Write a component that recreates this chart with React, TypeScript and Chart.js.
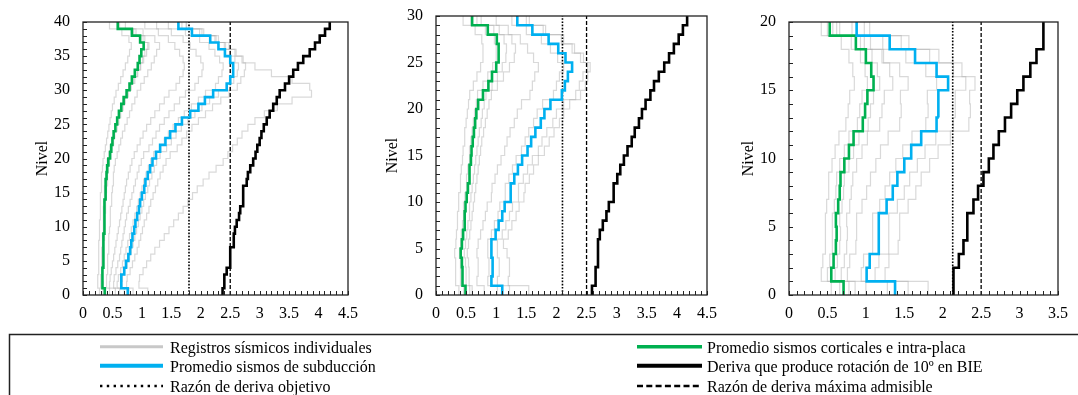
import React, { useEffect, useRef } from "react";
import { Chart, registerables } from "chart.js";

Chart.register(...registerables);

const FONT = "'Liberation Serif', 'Times New Roman', serif";
const GREEN = "#00b050";
const BLUE = "#00b0f0";
const BLACK = "#000000";
const GRAY = "rgba(170,170,170,0.45)";

// ---------- Panel 1 (40 niveles) ----------
const p1Cortical = [0.37, 0.33, 0.33, 0.33, 0.34, 0.34, 0.35, 0.35, 0.35, 0.36, 0.36, 0.36, 0.37, 0.37, 0.38, 0.38, 0.39, 0.40, 0.41, 0.43, 0.46, 0.48, 0.50, 0.52, 0.55, 0.58, 0.61, 0.65, 0.69, 0.74, 0.79, 0.83, 0.88, 0.93, 0.96, 0.99, 1.03, 0.97, 0.83, 0.59];
const p1Subduction = [0.76, 0.65, 0.65, 0.70, 0.73, 0.77, 0.80, 0.82, 0.84, 0.87, 0.89, 0.92, 0.95, 0.97, 1.00, 1.04, 1.06, 1.10, 1.14, 1.18, 1.24, 1.31, 1.40, 1.48, 1.57, 1.68, 1.82, 1.96, 2.07, 2.21, 2.44, 2.50, 2.55, 2.55, 2.50, 2.41, 2.30, 2.16, 1.85, 1.62];
const p1Rotation = [2.37, 2.40, 2.40, 2.44, 2.50, 2.50, 2.50, 2.56, 2.56, 2.58, 2.61, 2.65, 2.67, 2.72, 2.72, 2.72, 2.78, 2.80, 2.84, 2.89, 2.93, 2.96, 3.00, 3.03, 3.07, 3.12, 3.17, 3.23, 3.29, 3.34, 3.43, 3.50, 3.57, 3.65, 3.74, 3.85, 3.94, 4.02, 4.11, 4.19];
const p1Rec1 = [0.28, 0.25, 0.25, 0.26, 0.26, 0.27, 0.27, 0.27, 0.28, 0.28, 0.28, 0.29, 0.29, 0.30, 0.30, 0.31, 0.31, 0.32, 0.33, 0.34, 0.36, 0.38, 0.40, 0.42, 0.44, 0.46, 0.48, 0.50, 0.53, 0.56, 0.60, 0.64, 0.68, 0.72, 0.76, 0.79, 0.82, 0.78, 0.66, 0.45];
const p1Rec2 = [0.34, 0.30, 0.30, 0.31, 0.31, 0.32, 0.32, 0.33, 0.33, 0.34, 0.34, 0.35, 0.35, 0.36, 0.36, 0.37, 0.38, 0.39, 0.40, 0.41, 0.44, 0.46, 0.49, 0.52, 0.55, 0.58, 0.62, 0.66, 0.70, 0.74, 0.80, 0.86, 0.92, 0.97, 1.01, 1.05, 1.10, 1.02, 0.86, 0.60];
const p1Rec3 = [0.45, 0.40, 0.40, 0.41, 0.42, 0.42, 0.43, 0.44, 0.44, 0.45, 0.46, 0.46, 0.47, 0.48, 0.49, 0.50, 0.51, 0.52, 0.53, 0.55, 0.58, 0.61, 0.64, 0.67, 0.71, 0.75, 0.79, 0.83, 0.88, 0.92, 0.98, 1.04, 1.10, 1.16, 1.21, 1.25, 1.30, 1.22, 1.02, 0.72];
const p1Rec4 = [0.38, 0.34, 0.33, 0.33, 0.34, 0.34, 0.35, 0.35, 0.36, 0.36, 0.37, 0.37, 0.38, 0.38, 0.39, 0.40, 0.41, 0.42, 0.43, 0.45, 0.47, 0.49, 0.52, 0.54, 0.58, 0.61, 0.64, 0.68, 0.72, 0.77, 0.82, 0.88, 0.93, 0.98, 1.03, 1.08, 1.12, 1.05, 0.90, 0.62];
const p1Rec5 = [0.55, 0.45, 0.46, 0.48, 0.50, 0.52, 0.54, 0.56, 0.58, 0.60, 0.62, 0.64, 0.66, 0.68, 0.70, 0.72, 0.74, 0.77, 0.80, 0.83, 0.87, 0.92, 0.97, 1.02, 1.08, 1.15, 1.22, 1.30, 1.38, 1.46, 1.58, 1.64, 1.70, 1.72, 1.70, 1.64, 1.56, 1.45, 1.28, 1.05];
const p1Rec6 = [0.62, 0.52, 0.53, 0.56, 0.59, 0.62, 0.64, 0.66, 0.68, 0.70, 0.72, 0.74, 0.77, 0.80, 0.83, 0.86, 0.89, 0.92, 0.95, 0.99, 1.03, 1.12, 1.18, 1.24, 1.30, 1.38, 1.46, 1.55, 1.64, 1.74, 1.90, 1.96, 2.02, 2.04, 2.00, 1.92, 1.82, 1.70, 1.50, 1.25];
const p1Rec7 = [0.70, 0.58, 0.60, 0.64, 0.67, 0.70, 0.73, 0.76, 0.79, 0.82, 0.85, 0.88, 0.91, 0.94, 0.97, 1.00, 1.03, 1.07, 1.11, 1.15, 1.20, 1.30, 1.38, 1.45, 1.53, 1.62, 1.72, 1.84, 1.96, 2.08, 2.25, 2.30, 2.36, 2.38, 2.32, 2.24, 2.14, 1.98, 1.74, 1.45];
const p1Rec8 = [0.78, 0.66, 0.67, 0.71, 0.75, 0.79, 0.82, 0.85, 0.88, 0.91, 0.94, 0.97, 1.00, 1.03, 1.06, 1.10, 1.13, 1.17, 1.21, 1.25, 1.31, 1.42, 1.50, 1.58, 1.67, 1.78, 1.90, 2.02, 2.15, 2.30, 2.50, 2.56, 2.62, 2.64, 2.58, 2.50, 2.40, 2.24, 1.98, 1.68];
const p1Rec9 = [0.85, 0.74, 0.75, 0.80, 0.84, 0.88, 0.92, 0.95, 0.98, 1.01, 1.04, 1.08, 1.12, 1.15, 1.19, 1.23, 1.27, 1.31, 1.36, 1.41, 1.48, 1.60, 1.68, 1.76, 1.85, 1.96, 2.08, 2.20, 2.34, 2.48, 2.62, 2.68, 2.74, 2.76, 2.70, 2.60, 2.48, 2.30, 2.05, 1.75];
const p1Rec10 = [1.10, 0.95, 0.96, 1.02, 1.08, 1.15, 1.22, 1.30, 1.38, 1.46, 1.54, 1.62, 1.70, 1.78, 1.86, 1.94, 2.04, 2.14, 2.26, 2.38, 2.46, 2.54, 2.62, 2.70, 2.80, 2.92, 3.08, 3.30, 3.55, 3.88, 3.85, 3.55, 3.20, 2.92, 2.72, 2.58, 2.42, 2.26, 2.02, 1.76];
const p1Records = [p1Rec1, p1Rec2, p1Rec3, p1Rec4, p1Rec5, p1Rec6, p1Rec7, p1Rec8, p1Rec9, p1Rec10];

// ---------- Panel 2 (30 niveles) ----------
const p2Cortical = [0.49, 0.44, 0.44, 0.43, 0.41, 0.43, 0.45, 0.47, 0.48, 0.49, 0.51, 0.53, 0.55, 0.56, 0.58, 0.59, 0.61, 0.63, 0.65, 0.67, 0.70, 0.78, 0.87, 0.93, 1.00, 1.04, 1.04, 1.01, 0.86, 0.60];
const p2Subduction = [1.10, 0.92, 0.94, 0.94, 0.92, 0.92, 0.99, 1.04, 1.10, 1.14, 1.24, 1.24, 1.30, 1.36, 1.43, 1.52, 1.58, 1.65, 1.74, 1.80, 1.90, 2.09, 2.14, 2.19, 2.26, 2.15, 2.03, 1.87, 1.60, 1.35];
const p2Rotation = [2.59, 2.65, 2.65, 2.69, 2.69, 2.69, 2.72, 2.77, 2.83, 2.87, 2.95, 2.95, 3.01, 3.06, 3.12, 3.18, 3.25, 3.30, 3.37, 3.42, 3.48, 3.56, 3.62, 3.70, 3.79, 3.87, 3.95, 4.03, 4.10, 4.17];
const p2Rec1 = [0.38, 0.33, 0.33, 0.32, 0.31, 0.33, 0.34, 0.35, 0.36, 0.37, 0.38, 0.40, 0.41, 0.42, 0.44, 0.45, 0.47, 0.48, 0.50, 0.52, 0.54, 0.56, 0.62, 0.68, 0.74, 0.78, 0.78, 0.76, 0.65, 0.45];
const p2Rec2 = [0.46, 0.41, 0.41, 0.40, 0.39, 0.41, 0.42, 0.44, 0.45, 0.46, 0.48, 0.50, 0.51, 0.53, 0.55, 0.56, 0.58, 0.60, 0.62, 0.64, 0.67, 0.69, 0.78, 0.86, 0.94, 1.00, 1.00, 0.97, 0.82, 0.58];
const p2Rec3 = [0.56, 0.50, 0.50, 0.49, 0.47, 0.49, 0.51, 0.53, 0.55, 0.56, 0.58, 0.60, 0.62, 0.64, 0.66, 0.68, 0.70, 0.72, 0.75, 0.77, 0.80, 0.83, 0.93, 1.02, 1.10, 1.16, 1.17, 1.13, 0.96, 0.68];
const p2Rec4 = [0.60, 0.55, 0.55, 0.54, 0.52, 0.54, 0.56, 0.58, 0.60, 0.62, 0.64, 0.66, 0.68, 0.70, 0.72, 0.74, 0.76, 0.79, 0.82, 0.85, 0.88, 0.92, 1.02, 1.12, 1.22, 1.30, 1.32, 1.26, 1.05, 0.75];
const p2Rec5 = [0.80, 0.68, 0.70, 0.70, 0.68, 0.70, 0.74, 0.78, 0.82, 0.85, 0.92, 0.93, 0.98, 1.02, 1.08, 1.14, 1.18, 1.23, 1.30, 1.35, 1.42, 1.56, 1.60, 1.64, 1.70, 1.62, 1.52, 1.40, 1.20, 1.00];
const p2Rec6 = [1.02, 0.86, 0.88, 0.88, 0.86, 0.86, 0.92, 0.97, 1.03, 1.06, 1.15, 1.15, 1.21, 1.27, 1.33, 1.42, 1.48, 1.54, 1.62, 1.68, 1.77, 1.95, 2.00, 2.05, 2.12, 2.02, 1.90, 1.75, 1.50, 1.26];
const p2Rec7 = [1.22, 1.02, 1.05, 1.05, 1.02, 1.02, 1.10, 1.16, 1.22, 1.27, 1.37, 1.37, 1.45, 1.52, 1.60, 1.70, 1.76, 1.84, 1.94, 2.00, 2.12, 2.32, 2.38, 2.44, 2.52, 2.40, 2.26, 2.08, 1.78, 1.50];
const p2Rec8 = [1.54, 1.20, 1.22, 1.22, 1.18, 1.12, 1.20, 1.26, 1.33, 1.38, 1.46, 1.48, 1.55, 1.62, 1.70, 1.80, 1.88, 1.96, 2.05, 2.12, 2.22, 2.40, 2.48, 2.52, 2.56, 2.45, 2.30, 2.12, 1.82, 1.55];
const p2Records = [p2Rec1, p2Rec2, p2Rec3, p2Rec4, p2Rec5, p2Rec6, p2Rec7, p2Rec8];

// ---------- Panel 3 (20 niveles) ----------
const p3Cortical = [0.71, 0.55, 0.58, 0.61, 0.62, 0.61, 0.64, 0.66, 0.67, 0.72, 0.78, 0.84, 0.96, 0.99, 1.02, 1.10, 1.07, 1.00, 0.87, 0.53];
const p3Subduction = [1.38, 1.01, 1.05, 1.16, 1.17, 1.17, 1.27, 1.35, 1.41, 1.50, 1.59, 1.72, 1.92, 1.95, 1.94, 2.07, 1.92, 1.64, 1.31, 0.88];
const p3Rotation = [2.14, 2.14, 2.21, 2.27, 2.32, 2.32, 2.40, 2.46, 2.53, 2.60, 2.66, 2.73, 2.81, 2.89, 2.97, 3.05, 3.14, 3.22, 3.31, 3.31];
const p3Rec1 = [0.55, 0.42, 0.44, 0.47, 0.48, 0.47, 0.49, 0.51, 0.52, 0.56, 0.60, 0.65, 0.74, 0.77, 0.79, 0.85, 0.83, 0.78, 0.68, 0.42];
const p3Rec2 = [0.66, 0.50, 0.53, 0.56, 0.57, 0.56, 0.59, 0.61, 0.62, 0.66, 0.72, 0.78, 0.89, 0.92, 0.95, 1.02, 0.99, 0.93, 0.81, 0.50];
const p3Rec3 = [0.78, 0.60, 0.63, 0.66, 0.67, 0.66, 0.69, 0.71, 0.72, 0.78, 0.84, 0.91, 1.03, 1.06, 1.10, 1.18, 1.15, 1.08, 0.93, 0.57];
const p3Rec4 = [0.86, 0.68, 0.72, 0.75, 0.76, 0.75, 0.79, 0.81, 0.83, 0.88, 0.95, 1.02, 1.18, 1.21, 1.24, 1.35, 1.31, 1.21, 1.06, 0.62];
const p3Rec5 = [1.00, 0.76, 0.79, 0.87, 0.88, 0.88, 0.95, 1.01, 1.06, 1.13, 1.19, 1.29, 1.44, 1.46, 1.45, 1.55, 1.44, 1.23, 0.98, 0.66];
const p3Rec6 = [1.28, 0.94, 0.97, 1.08, 1.09, 1.09, 1.18, 1.25, 1.31, 1.39, 1.48, 1.60, 1.78, 1.81, 1.80, 1.92, 1.78, 1.52, 1.22, 0.82];
const p3Rec7 = [1.55, 1.12, 1.17, 1.29, 1.30, 1.30, 1.41, 1.50, 1.57, 1.67, 1.77, 1.91, 2.14, 2.17, 2.16, 2.30, 2.14, 1.83, 1.46, 0.98];
const p3Rec8 = [1.81, 1.25, 1.30, 1.42, 1.44, 1.44, 1.55, 1.65, 1.72, 1.83, 1.94, 2.10, 2.34, 2.36, 2.35, 2.42, 2.25, 1.95, 1.56, 1.05];
const p3Records = [p3Rec1, p3Rec2, p3Rec3, p3Rec4, p3Rec5, p3Rec6, p3Rec7, p3Rec8];

// Reference lines (drift ratio) and axis maxima
const targetDrift = [1.8, 2.1, 2.13];
const maxDrift = [2.5, 2.5, 2.5];
const xAxisMax = [4.5, 4.5, 3.5];
const yTickStep = 5;
const xTickStep = 0.5;

const legendLabels = [
  "Registros sísmicos individuales",
  "Promedio sismos de subducción",
  "Razón de deriva objetivo",
  "Promedio sismos corticales e intra-placa",
  "Deriva que produce rotación de 10º en BIE",
  "Razón de deriva máxima admisible",
];

type Spec = {
  left: number;
  width: number;
  height: number;
  areaLeft: number;
  areaRight: number;
  areaTop: number;
  areaBottom: number;
  titleX: number;
  idx: number;
  records: number[][];
  cortical: number[];
  subduction: number[];
  rotation: number[];
};

const specs: Spec[] = [
  { left: 0, width: 360, height: 330, areaLeft: 83, areaRight: 348, areaTop: 22, areaBottom: 295, titleX: 43, idx: 0, records: p1Records, cortical: p1Cortical, subduction: p1Subduction, rotation: p1Rotation },
  { left: 360, width: 360, height: 330, areaLeft: 76, areaRight: 347, areaTop: 16, areaBottom: 295, titleX: 33, idx: 1, records: p2Records, cortical: p2Cortical, subduction: p2Subduction, rotation: p2Rotation },
  { left: 720, width: 358, height: 330, areaLeft: 69, areaRight: 338, areaTop: 22, areaBottom: 295, titleX: 29, idx: 2, records: p3Records, cortical: p3Cortical, subduction: p3Subduction, rotation: p3Rotation },
];

function steps(vals: number[]) {
  const pts: { x: number; y: number }[] = [];
  vals.forEach((v, i) => {
    pts.push({ x: v, y: i });
    pts.push({ x: v, y: i + 1 });
  });
  return pts;
}

const framePlugin = {
  id: "frameTicks",
  afterDatasetsDraw(chart: any) {
    const { ctx, chartArea: a, scales } = chart;
    const xs = scales.x;
    const ys = scales.y;
    ctx.save();
    ctx.strokeStyle = "#222";
    ctx.lineWidth = 1;
    ctx.beginPath();
    const nx = Math.round(xs.max * 10);
    for (let i = 0; i <= nx; i++) {
      const px = Math.round(xs.getPixelForValue(i / 10)) + 0.5;
      ctx.moveTo(px, a.bottom);
      ctx.lineTo(px, a.bottom - 4);
    }
    for (let j = 0; j <= ys.max; j++) {
      const py = Math.round(ys.getPixelForValue(j)) + 0.5;
      ctx.moveTo(a.left, py);
      ctx.lineTo(a.left + 4, py);
    }
    ctx.stroke();
    ctx.lineWidth = 1.3;
    ctx.strokeRect(a.left, a.top, a.right - a.left, a.bottom - a.top);
    ctx.restore();
  },
};

function Panel({ spec }: { spec: Spec }) {
  const ref = useRef<HTMLCanvasElement>(null);
  useEffect(() => {
    if (!ref.current) return;
    const levels = spec.cortical.length;
    const t = targetDrift[spec.idx];
    const m = maxDrift[spec.idx];
    const datasets: any[] = [
      { data: steps(spec.rotation), borderColor: BLACK, borderWidth: 2.6 },
      { data: steps(spec.subduction), borderColor: BLUE, borderWidth: 2.6 },
      { data: steps(spec.cortical), borderColor: GREEN, borderWidth: 2.6 },
      { data: [{ x: t, y: 0 }, { x: t, y: levels }], borderColor: BLACK, borderWidth: 1.6, borderDash: [1.6, 1.6] },
      { data: [{ x: m, y: 0 }, { x: m, y: levels }], borderColor: BLACK, borderWidth: 1.3, borderDash: [4, 2] },
      ...spec.records.map((r) => ({ data: steps(r), borderColor: GRAY, borderWidth: 1.2 })),
    ];
    const chart = new Chart(ref.current, {
      type: "line",
      data: { datasets },
      options: {
        animation: false,
        responsive: false,
        events: [],
        layout: { padding: { top: spec.areaTop, right: spec.width - spec.areaRight, bottom: 0, left: 0 } },
        plugins: { legend: { display: false }, tooltip: { enabled: false } },
        elements: { point: { radius: 0 }, line: { tension: 0, fill: false } },
        scales: {
          x: {
            type: "linear",
            position: "bottom",
            min: 0,
            max: xAxisMax[spec.idx],
            grid: { display: false },
            border: { display: false },
            ticks: {
              stepSize: xTickStep,
              color: "#000",
              font: { family: FONT, size: 16 },
              padding: 1,
              maxRotation: 0,
              autoSkip: false,
              callback: (v: any) => String(Number(v)),
            },
            afterFit: (s: any) => {
              s.height = spec.height - spec.areaBottom;
            },
          },
          y: {
            type: "linear",
            min: 0,
            max: levels,
            grid: { display: false },
            border: { display: false },
            ticks: {
              stepSize: yTickStep,
              color: "#000",
              font: { family: FONT, size: 16 },
              padding: 5,
              callback: (v: any) => String(Number(v)),
            },
            title: {
              display: true,
              text: "Nivel",
              color: "#000",
              font: { family: FONT, size: 16 },
              padding: { top: spec.titleX - 9.6, bottom: 0 },
            },
            afterFit: (s: any) => {
              s.width = spec.areaLeft;
            },
          },
        },
      } as any,
      plugins: [framePlugin],
    });
    return () => chart.destroy();
  }, [spec]);
  return (
    <canvas
      ref={ref}
      width={spec.width}
      height={spec.height}
      style={{ position: "absolute", left: spec.left, top: 0, width: spec.width, height: spec.height }}
    />
  );
}

function Legend() {
  const rowsLine = [21.7, 40.7, 61];
  const rowsText = [28.3, 47, 66.7];
  const c1 = { x1: 100, x2: 163, tx: 170 };
  const c2 = { x1: 637, x2: 702, tx: 707 };
  const textStyle: any = { fontFamily: FONT, fontSize: 16, fill: "#000" };
  return (
    <svg
      width={1078}
      height={70}
      style={{ position: "absolute", left: 0, top: 325 }}
    >
      <rect x={9.5} y={9.5} width={1200} height={200} fill="none" stroke="#222" strokeWidth={1.5} />
      <line x1={c1.x1} x2={c1.x2} y1={rowsLine[0]} y2={rowsLine[0]} stroke="#c8c8c8" strokeWidth={3} />
      <text x={c1.tx} y={rowsText[0]} style={textStyle}>{legendLabels[0]}</text>
      <line x1={c1.x1} x2={c1.x2} y1={rowsLine[1]} y2={rowsLine[1]} stroke={BLUE} strokeWidth={4} />
      <text x={c1.tx} y={rowsText[1]} style={textStyle}>{legendLabels[1]}</text>
      <line x1={c1.x1} x2={c1.x2} y1={rowsLine[2]} y2={rowsLine[2]} stroke="#000" strokeWidth={2.4} strokeDasharray="2.4 4.4" />
      <text x={c1.tx} y={rowsText[2]} style={textStyle}>{legendLabels[2]}</text>
      <line x1={c2.x1} x2={c2.x2} y1={rowsLine[0]} y2={rowsLine[0]} stroke={GREEN} strokeWidth={3.5} />
      <text x={c2.tx} y={rowsText[0]} style={textStyle}>{legendLabels[3]}</text>
      <line x1={c2.x1} x2={c2.x2} y1={rowsLine[1]} y2={rowsLine[1]} stroke="#000" strokeWidth={4} />
      <text x={c2.tx} y={rowsText[1]} style={textStyle}>{legendLabels[4]}</text>
      <line x1={c2.x1} x2={c2.x2} y1={rowsLine[2]} y2={rowsLine[2]} stroke="#000" strokeWidth={2.4} strokeDasharray="6 3.3" />
      <text x={c2.tx} y={rowsText[2]} style={textStyle}>{legendLabels[5]}</text>
    </svg>
  );
}

export default function App() {
  return (
    <div
      style={{
        position: "fixed",
        left: 0,
        top: 0,
        width: 1078,
        height: 395,
        overflow: "hidden",
        background: "#fff",
      }}
    >
      {specs.map((s) => (
        <Panel key={s.idx} spec={s} />
      ))}
      <Legend />
    </div>
  );
}
